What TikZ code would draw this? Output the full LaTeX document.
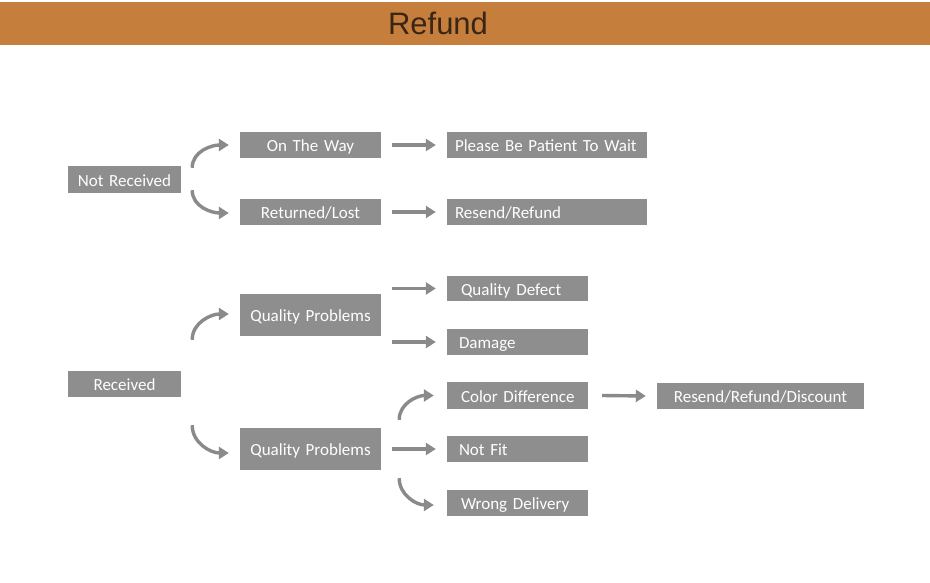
\documentclass[tikz,border=0pt]{standalone}
\usepackage{fontspec}
\newfontfamily\carlito{Carlito}
\newfontfamily\titlefont{Liberation Sans}
\usetikzlibrary{arrows.meta}
\definecolor{bargold}{HTML}{C57E3C}
\definecolor{titlebrown}{HTML}{3A2616}
\definecolor{boxgray}{HTML}{8E8E8E}
\definecolor{arrowgray}{HTML}{8A8A8A}
\tikzset{
  box/.style={fill=boxgray, text=white, font=\carlito\fontsize{17}{17}\selectfont,
    inner sep=0pt, text height=14pt, text depth=1pt},
  conn/.style={draw=arrowgray, line width=3.4pt,
    -{Triangle[width=12pt,length=10pt]}},
}
\begin{document}
\begin{tikzpicture}[x=1pt,y=-1pt]
\useasboundingbox (0,0) rectangle (930,583);
\fill[white] (0,0) rectangle (930,583);
\fill[bargold] (0,2) rectangle (930,45);
\node[font=\titlefont\fontsize{31}{31}\selectfont, text=titlebrown, inner sep=0pt] (title) at (438,23) {Refund};

% column 1
\node[box, minimum width=113pt, minimum height=27pt, text width=113pt, align=center] (nr) at (124.5,179.5) {Not Received};
\node[box, minimum width=113pt, minimum height=26pt, text width=113pt, align=center] (rc) at (124.5,384) {Received};

% column 2
\node[box, minimum width=141pt, minimum height=26pt, text width=141pt, align=center] (otw) at (310.5,145) {On The Way};
\node[box, minimum width=141pt, minimum height=26pt, text width=141pt, align=center] (rl) at (310.5,212) {Returned/Lost};
\node[box, minimum width=141pt, minimum height=42pt, text width=141pt, align=center] (qp1) at (310.5,315) {Quality Problems};
\node[box, minimum width=141pt, minimum height=42pt, text width=141pt, align=center] (qp2) at (310.5,449) {Quality Problems};

% column 3
\node[box, minimum width=200pt, minimum height=26pt, text width=184pt, align=left] (wait) at (547,145) {Please Be Patient To Wait};
\node[box, minimum width=200pt, minimum height=26pt, text width=184pt, align=left] (rr) at (547,212) {Resend/Refund};
\node[box, minimum width=141pt, minimum height=25pt, text width=113pt, align=left] (qd) at (517.5,288.5) {Quality Defect};
\node[box, minimum width=141pt, minimum height=26pt, text width=117pt, align=left] (dm) at (517.5,342) {Damage};
\node[box, minimum width=141pt, minimum height=27pt, text width=113pt, align=left] (cd) at (517.5,395.5) {\mbox{Color Difference}};
\node[box, minimum width=141pt, minimum height=26pt, text width=117pt, align=left] (nf) at (517.5,449) {Not Fit};
\node[box, minimum width=141pt, minimum height=26pt, text width=113pt, align=left] (wd) at (517.5,503) {Wrong Delivery};

% column 4
\node[box, minimum width=207pt, minimum height=26pt, text width=207pt, align=center] (rrd) at (760.5,396) {Resend/Refund/Discount};

% curved connectors
\draw[conn] ([xshift=11pt,yshift=-2pt]nr.north east) to[out=90,in=180] ([xshift=-11pt]otw.west);
\draw[conn] ([xshift=11pt,yshift=3pt]nr.south east) to[out=-90,in=180] ([xshift=-11pt,yshift=-1pt]rl.west);
\draw[conn] ([xshift=11pt,yshift=31pt]rc.north east) to[out=90,in=180] ([xshift=-11pt,yshift=1pt]qp1.west);
\draw[conn] ([xshift=11pt,yshift=-28pt]rc.south east) to[out=-90,in=180] ([xshift=-11pt,yshift=-4pt]qp2.west);
\draw[conn] ([xshift=18pt,yshift=8pt]qp2.north east) to[out=90,in=180] ([xshift=-13pt]cd.west);
\draw[conn] ([xshift=18pt,yshift=-8pt]qp2.south east) to[out=-90,in=180] ([xshift=-13pt,yshift=-2pt]wd.west);

% straight connectors
\draw[conn] ([xshift=11pt]otw.east) -- ([xshift=-11pt]wait.west);
\draw[conn] ([xshift=11pt]rl.east) -- ([xshift=-11pt]rr.west);
\draw[conn] ([xshift=11pt]qp1.east |- qd.west) -- ([xshift=-11pt]qd.west);
\draw[conn] ([xshift=11pt]qp1.east |- dm.west) -- ([xshift=-11pt]dm.west);
\draw[conn] ([xshift=11pt]qp2.east) -- ([xshift=-11pt]nf.west);
\draw[conn] ([xshift=14pt]cd.east) -- ([xshift=-11pt]rrd.west);
\end{tikzpicture}
\end{document}
